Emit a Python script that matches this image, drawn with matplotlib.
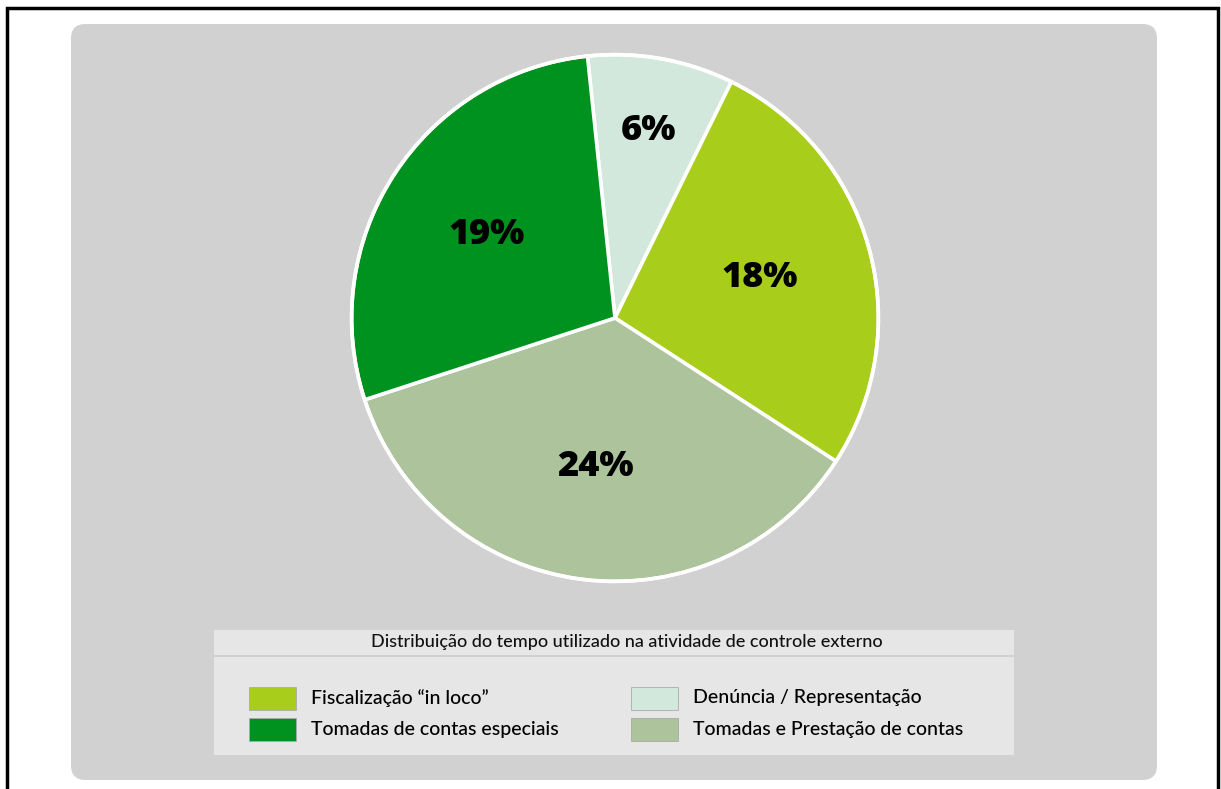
import matplotlib
matplotlib.use("Agg")
import matplotlib.pyplot as plt
from matplotlib.patches import FancyBboxPatch, Rectangle
import numpy as np

# dados do gráfico (ordem horária a partir do topo)
categorias = ["Denúncia / Representação", "Fiscalização \u201cin loco\u201d",
              "Tomadas e Prestação de contas", "Tomadas de contas especiais"]
valores = [6, 18, 24, 19]
rotulos = ["6%", "18%", "24%", "19%"]
cores = ["#d3e8dc", "#a9cd1b", "#adc39b", "#00921e"]
titulo_legenda = "Distribuição do tempo utilizado na atividade de controle externo"

W, H = 1221, 789
fig = plt.figure(figsize=(W / 100, H / 100), dpi=100)
fig.patch.set_facecolor("white")

def fx(x):
    return x / W

def fy(y):
    return 1 - y / H

# moldura preta
fig.patches.append(Rectangle((fx(7), fy(800)), fx(1211), 792 / H, transform=fig.transFigure,
                             fill=False, edgecolor="black", linewidth=2.5, zorder=0))

# fundo cinzento arredondado
fig.patches.append(FancyBboxPatch((fx(71), fy(780)), fx(1086), 756 / H,
                                  boxstyle="round,pad=0,rounding_size=0.012",
                                  transform=fig.transFigure, facecolor="#d1d1d1",
                                  edgecolor="none", mutation_aspect=W / H, zorder=0))

# caixa da legenda
fig.patches.append(Rectangle((fx(214), fy(655)), fx(800), 25 / H, transform=fig.transFigure,
                             facecolor="#e6e6e6", edgecolor="none", zorder=1))
fig.patches.append(Rectangle((fx(214), fy(755)), fx(800), 98 / H, transform=fig.transFigure,
                             facecolor="#e6e6e6", edgecolor="none", zorder=1))

fonte = ["Lato", "DejaVu Sans"]
fig.text(fx(627), fy(642), titulo_legenda, ha="center", va="center", fontsize=13,
         family=fonte, fontweight="medium", color="#111111")

# itens da legenda: Fiscalização, Denúncia / Tomadas especiais, Tomadas e Prestação
ordem_legenda = [1, 0, 3, 2]
pos_legenda = [(249, 698), (631, 698), (249, 729), (631, 729)]
for idx, (px, py) in zip(ordem_legenda, pos_legenda):
    fig.patches.append(Rectangle((fx(px), fy(py + 11.5)), fx(47), 23 / H,
                                 transform=fig.transFigure, facecolor=cores[idx],
                                 edgecolor="#aaaaaa", linewidth=0.6, zorder=2))
    fig.text(fx(px + 62), fy(py), categorias[idx], ha="left", va="center",
             fontsize=14, family=fonte, fontweight="medium", color="black")

# pizza
cx, cy, r = 615, 318, 266
ax = fig.add_axes([fx(cx - r), fy(cy + r), 2 * r / W, 2 * r / H], zorder=5)
ax.set_facecolor("none")
wedges, _ = ax.pie(valores, colors=cores, startangle=96, counterclock=False,
                   wedgeprops=dict(edgecolor="white", linewidth=2.6))
ax.add_patch(plt.Circle((0, 0), 1, fill=False, edgecolor="white", linewidth=2.6))
ax.set_xlim(-1.01, 1.01)
ax.set_ylim(-1.01, 1.01)
ax.set_aspect("equal")
ax.axis("off")

dist = [0.72, 0.57, 0.57, 0.58]
for w, txt, d in zip(wedges, rotulos, dist):
    ang = np.deg2rad((w.theta1 + w.theta2) / 2)
    ax.text(d * np.cos(ang), d * np.sin(ang), txt, ha="center", va="center",
            fontsize=26, fontweight="heavy", family=["Open Sans", "DejaVu Sans"], color="black")

fig.savefig("out.png", dpi=100)
